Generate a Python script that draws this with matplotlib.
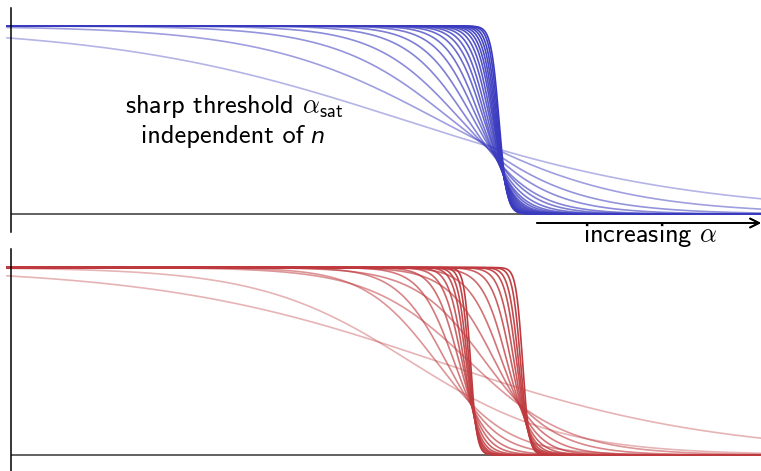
import numpy as np
import matplotlib.pyplot as plt

plt.rcParams['mathtext.fontset'] = 'cm'

# curve parameters (alpha units: centre of the drop, width)
top_center = [4.04, 4.39, 4.52, 4.61, 4.68, 4.74, 4.78, 4.81, 4.84, 4.86,
              4.88, 4.90, 4.915, 4.93, 4.94, 4.95, 4.96, 4.97, 4.98, 4.99]
top_width = [1.47, 0.89, 0.59, 0.43, 0.32, 0.26, 0.21, 0.175, 0.15, 0.13,
             0.115, 0.102, 0.09, 0.08, 0.071, 0.063, 0.056, 0.05, 0.044, 0.04]

# bottom panel: two groups with different thresholds
bot_a_center = [4.10, 4.36, 4.46, 4.54, 4.59, 4.62, 4.64, 4.66, 4.675, 4.69, 4.705]
bot_a_width = [0.75, 0.36, 0.25, 0.17, 0.125, 0.095, 0.075, 0.06, 0.05, 0.04, 0.032]
bot_b_center = [4.37, 4.69, 4.85, 4.95, 5.02, 5.07, 5.11, 5.14, 5.165, 5.185, 5.205, 5.225]
bot_b_width = [1.40, 0.50, 0.35, 0.24, 0.17, 0.125, 0.095, 0.075, 0.06, 0.05, 0.04, 0.033]

W, H = 761, 471
fig = plt.figure(figsize=(W / 100, H / 100), dpi=100)

ax_top = fig.add_axes([11 / W, 1 - 232 / H, 750 / W, 224 / H])
ax_bot = fig.add_axes([11 / W, 0, 750 / W, 222 / H])

a = np.linspace(0.07, 7.61, 2000)


def drop(center, width):
    return 1.0 / (1.0 + np.exp((a - center) / width))


for ax in (ax_top, ax_bot):
    for side in ("top", "right", "bottom"):
        ax.spines[side].set_visible(False)
    ax.spines["left"].set_linewidth(1.1)
    ax.set_xticks([])
    ax.set_yticks([])
    ax.set_xlim(0.11, 7.61)
    ax.axhline(0, color="#555555", lw=1.3, zorder=1)

ax_top.set_ylim(-0.0957, 1.0957)
ax_bot.set_ylim(-0.0853, 1.0987)

blue = "#3a3abf"
red = "#bf3a3e"


def fade(n):
    # pale for the widest curve, solid for the sharpest
    return 0.38 + 0.62 * np.linspace(0, 1, n) ** 0.6


for c, w, al in zip(top_center, top_width, fade(len(top_center))):
    ax_top.plot(a, drop(c, w), color=blue, alpha=al, lw=1.2, clip_on=False, zorder=2)

for centers, widths in ((bot_b_center, bot_b_width), (bot_a_center, bot_a_width)):
    for c, w, al in zip(centers, widths, fade(len(centers))):
        ax_bot.plot(a, drop(c, w), color=red, alpha=al, lw=1.2, clip_on=False, zorder=2)

# arrow along the alpha direction
fig.add_artist(plt.annotate("", xy=(1.0, 1 - 223 / H), xytext=(537 / W, 1 - 223 / H),
                            xycoords="figure fraction", textcoords="figure fraction",
                            arrowprops=dict(arrowstyle="->", lw=1.3, color="black",
                                            shrinkA=0, shrinkB=0, mutation_scale=16)))

fs = 19
fig.text(650 / W, 1 - 241.7 / H, r"increasing $\alpha$", ha="center", va="baseline",
         fontsize=fs, family="cmss10")
fig.text(234 / W, 1 - 113.3 / H, r"sharp threshold $\alpha_{\mathsf{sat}}$", ha="center",
         va="baseline", fontsize=fs, family="cmss10")
t2 = fig.text(141 / W, 1 - 143.3 / H, "independent of", ha="left", va="baseline",
              fontsize=fs, family="cmss10")

fig.canvas.draw()
bb = t2.get_window_extent(fig.canvas.get_renderer())
fig.text((bb.x1 + 6) / W, 1 - 143.3 / H, "n", ha="left", va="baseline",
         fontsize=16, family="DejaVu Sans", style="italic")

fig.savefig("out.png", dpi=100)
